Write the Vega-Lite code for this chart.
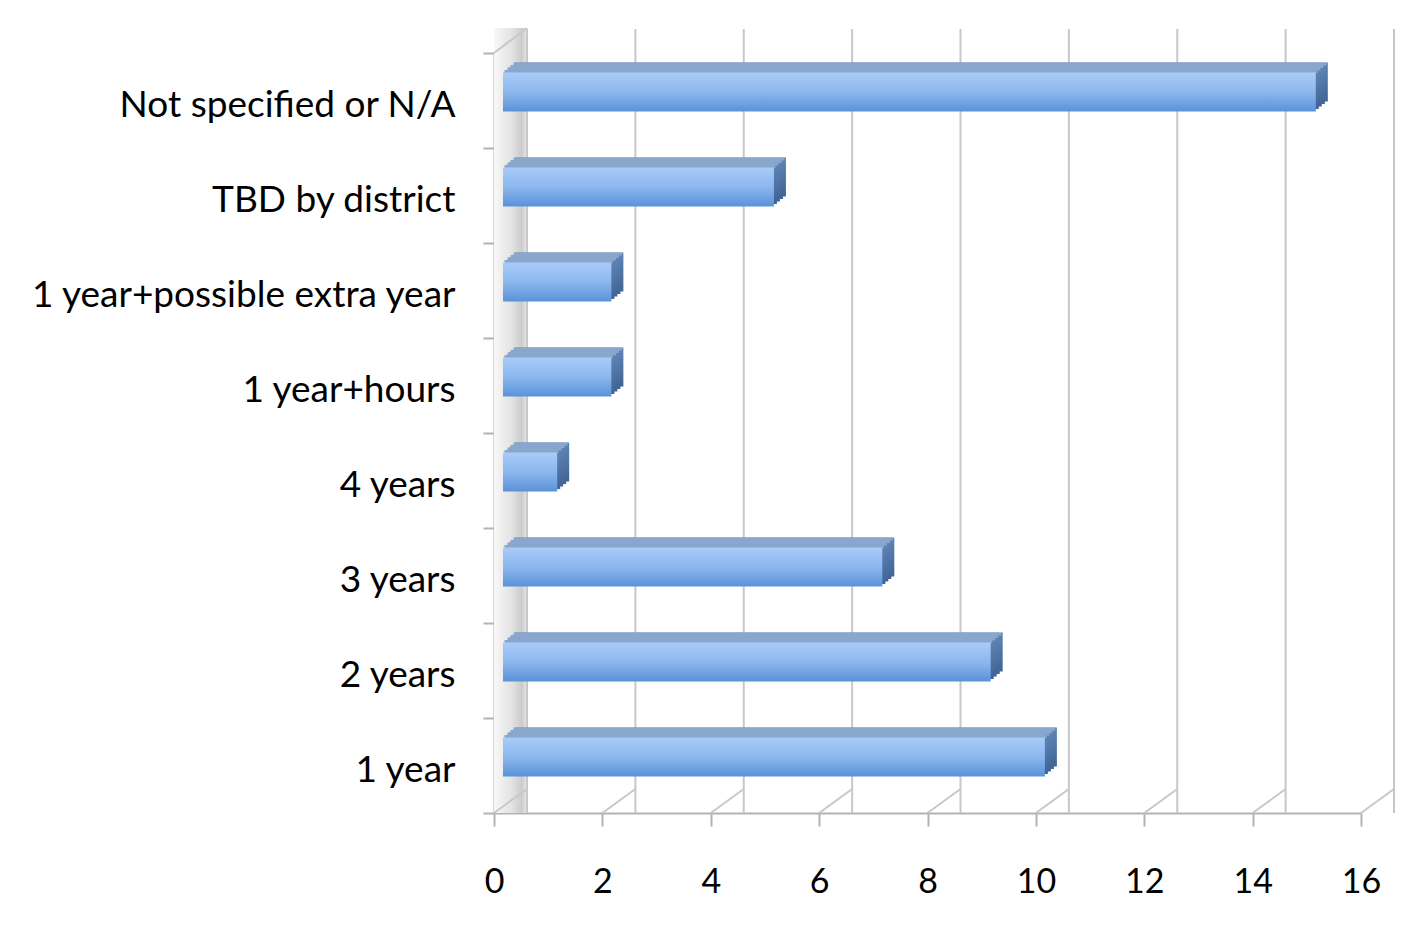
{
  "$schema": "https://vega.github.io/schema/vega-lite/v6.json",
  "width": 867,
  "height": 760,
  "autosize": {"type": "none"},
  "padding": {"left": 494, "top": 53, "right": 52, "bottom": 128},
  "background": "white",
  "config": {
    "view": {"stroke": null},
    "axis": {"title": null, "grid": false, "domainColor": "#b3b3b3", "domainWidth": 2, "tickColor": "#b3b3b3", "tickWidth": 2, "labelFont": "Lato", "labelColor": "#000000", "labelLimit": 0}
  },
  "datasets": {
    "bars": [
      {"cat": "Not specified or N/A", "v": 15},
      {"cat": "TBD by district", "v": 5},
      {"cat": "1 year+possible extra year", "v": 2},
      {"cat": "1 year+hours", "v": 2},
      {"cat": "4 years ", "v": 1},
      {"cat": "3 years", "v": 7},
      {"cat": "2 years", "v": 9},
      {"cat": "1 year", "v": 10}
    ],
    "grid": [{"v": 0}, {"v": 2}, {"v": 4}, {"v": 6}, {"v": 8}, {"v": 10}, {"v": 12}, {"v": 14}, {"v": 16}]
  },
  "layer": [
    {
      "data": {"name": "grid"},
      "transform": [{"filter": "datum.v == 0"}],
      "mark": {"type": "rect", "x2Offset": 33, "yOffset": -25, "fill": {"gradient": "linear", "x1": 0, "y1": 0, "x2": 1, "y2": 0, "stops": [{"offset": 0, "color": "#f8f8f8"}, {"offset": 0.55, "color": "#e2e2e2"}, {"offset": 0.85, "color": "#cbcbcb"}, {"offset": 1, "color": "#ebebeb"}]}},
      "encoding": {
        "x": {"field": "v", "type": "quantitative", "scale": {"domain": [0, 16], "nice": false}},
        "x2": {"field": "v"}
      }
    },
    {
      "data": {"name": "grid"},
      "mark": {"type": "rule", "xOffset": 33, "yOffset": -24, "color": "#c8c8c8", "strokeWidth": 2},
      "encoding": {"x": {"field": "v", "type": "quantitative"}}
    },
    {
      "data": {"name": "grid"},
      "mark": {"type": "rule", "x2Offset": 33, "y2Offset": -24, "color": "#c8c8c8", "strokeWidth": 2},
      "encoding": {
        "x": {"field": "v", "type": "quantitative"},
        "x2": {"field": "v"},
        "y": {"datum": "1 year", "type": "nominal", "bandPosition": 1},
        "y2": {"datum": "1 year", "bandPosition": 1}
      }
    },
    {
      "data": {"name": "grid"},
      "transform": [{"filter": "datum.v == 0"}],
      "mark": {"type": "rule", "x2Offset": 33, "y2Offset": -25, "color": "#c8c8c8", "strokeWidth": 2},
      "encoding": {
        "x": {"field": "v", "type": "quantitative"},
        "x2": {"field": "v"},
        "y": {"datum": "Not specified or N/A", "type": "nominal", "bandPosition": 0},
        "y2": {"datum": "Not specified or N/A", "bandPosition": 0}
      }
    },
    {
      "data": {"name": "bars"},
      "layer": [
        {"mark": {"type": "bar", "xOffset": 21, "x2Offset": 21, "yOffset": -18.5, "height": {"band": 0.41}, "fill": {"gradient": "linear", "x1": 0, "y1": 0, "x2": 0, "y2": 1, "stops": [{"offset": 0, "color": "#5f84b6"}, {"offset": 1, "color": "#3f6494"}]}}, "encoding": {"x": {"field": "v", "type": "quantitative"}}},
        {"mark": {"type": "bar", "xOffset": 18, "x2Offset": 18, "yOffset": -16, "height": {"band": 0.41}, "fill": {"gradient": "linear", "x1": 0, "y1": 0, "x2": 0, "y2": 1, "stops": [{"offset": 0, "color": "#5f84b6"}, {"offset": 1, "color": "#3f6494"}]}}, "encoding": {"x": {"field": "v", "type": "quantitative"}}},
        {"mark": {"type": "bar", "xOffset": 15, "x2Offset": 15, "yOffset": -13.5, "height": {"band": 0.41}, "fill": {"gradient": "linear", "x1": 0, "y1": 0, "x2": 0, "y2": 1, "stops": [{"offset": 0, "color": "#5f84b6"}, {"offset": 1, "color": "#3f6494"}]}}, "encoding": {"x": {"field": "v", "type": "quantitative"}}},
        {"mark": {"type": "bar", "xOffset": 12, "x2Offset": 12, "yOffset": -11, "height": {"band": 0.41}, "fill": {"gradient": "linear", "x1": 0, "y1": 0, "x2": 0, "y2": 1, "stops": [{"offset": 0, "color": "#5f84b6"}, {"offset": 1, "color": "#3f6494"}]}}, "encoding": {"x": {"field": "v", "type": "quantitative"}}},
        {"mark": {"type": "bar", "fill": "#89a6cd", "xOffset": 19.5, "x2Offset": 19.5, "yOffset": -36.5, "height": 3}, "encoding": {"x": {"field": "v", "type": "quantitative"}}},
        {"mark": {"type": "bar", "fill": "#89a6cd", "xOffset": 16.5, "x2Offset": 16.5, "yOffset": -34, "height": 3}, "encoding": {"x": {"field": "v", "type": "quantitative"}}},
        {"mark": {"type": "bar", "fill": "#89a6cd", "xOffset": 13.5, "x2Offset": 13.5, "yOffset": -31.5, "height": 3}, "encoding": {"x": {"field": "v", "type": "quantitative"}}},
        {"mark": {"type": "bar", "fill": "#89a6cd", "xOffset": 10.5, "x2Offset": 10.5, "yOffset": -29, "height": 3}, "encoding": {"x": {"field": "v", "type": "quantitative"}}},
        {
          "mark": {"type": "bar", "xOffset": 9, "x2Offset": 9, "yOffset": -8.5, "height": {"band": 0.41}, "fill": {"gradient": "linear", "x1": 0, "y1": 0, "x2": 0, "y2": 1, "stops": [{"offset": 0, "color": "#a9cbf8"}, {"offset": 0.5, "color": "#8cb7ee"}, {"offset": 1, "color": "#5a92d8"}]}},
          "encoding": {
            "x": {"field": "v", "type": "quantitative", "axis": {"values": [0, 2, 4, 6, 8, 10, 12, 14, 16], "tickSize": 13, "labelPadding": 39, "labelFlush": false, "labelFontSize": 34}}
          }
        }
      ],
      "encoding": {
        "y": {"field": "cat", "type": "nominal", "sort": ["Not specified or N/A", "TBD by district", "1 year+possible extra year", "1 year+hours", "4 years ", "3 years", "2 years", "1 year"], "scale": {"paddingInner": 0, "paddingOuter": 0}, "axis": {"tickBand": "extent", "tickSize": 11, "labelPadding": 28, "labelOffset": 5, "labelFontSize": 37, "encode": {"labels": {"update": {"dx": {"signal": "datum.value === '4 years ' ? -8 : 0"}}}}}}
      }
    }
  ]
}
